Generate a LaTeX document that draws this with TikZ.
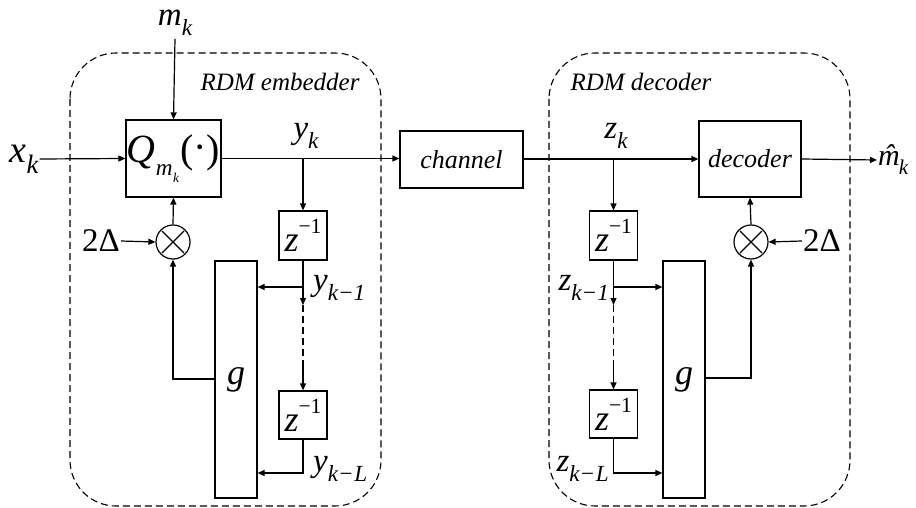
\documentclass[tikz,border=0pt]{standalone}
\usepackage{fontspec}
\newfontfamily\tms{Liberation Serif}
\usepackage{graphicx}
\usetikzlibrary{arrows.meta,calc}
% lowered and raised script text for subscripts and exponents
\newcommand\lowsub[1]{\raisebox{-0.3em}{\scalebox{0.7}{\itshape #1}}}
\newcommand\qsub[1]{\raisebox{-0.32em}{\scalebox{0.58}{\itshape #1}}}
\newcommand\hisup[1]{\raisebox{0.5em}{\scalebox{0.6}{#1}}}
\newcommand\fs[1]{\tms\fontsize{#1}{#1}\selectfont}
\tikzset{
  conn/.style={line width=1.2pt},
  arr/.style={conn,-{Triangle[length=7pt,width=6pt]}},
  blk/.style={draw,line width=1.2pt,inner sep=0pt,rectangle},
  mult/.style={draw,line width=1.2pt,circle,minimum size=34pt,inner sep=0pt},
  grp/.style={draw,line width=1.1pt,dash pattern=on 7pt off 4pt,rounded corners=46pt},
  chain/.style={conn,dash pattern=on 7pt off 4pt},
  lbl/.style={inner sep=1pt,font=\fs{33}},
  title/.style={inner sep=0pt,font=\fs{25}\itshape},
}
\begin{document}
\begin{tikzpicture}[x=1pt,y=-1pt]
\useasboundingbox (0,0) rectangle (916,508);

% enclosing groups
\draw[grp] (70,53) rectangle (381,506);
\draw[grp] (549,53) rectangle (850,506);
\node[title] (embT) at (280,82) {RDM embedder};
\node[title] (decT) at (641,82) {RDM decoder};

% ---------- embedder ----------
\node[blk,minimum width=95pt,minimum height=77pt,font=\fs{40}] (Q) at (173.5,158.5)
  {\textit{Q}\qsub{m\kern1pt\qsub{k}}\kern1pt(\raisebox{0.05em}{·})};
\node[blk,minimum width=48pt,minimum height=49pt,font=\fs{36}] (z1) at (303,235.5) {\textit{z}\hisup{−1}};
\node[blk,minimum width=48pt,minimum height=48pt,font=\fs{36}] (z2) at (303,415) {\textit{z}\hisup{−1}};
\node[blk,minimum width=42pt,minimum height=237pt,font=\fs{36}\itshape] (g) at (236,379.5) {g};
\node[mult] (m1) at (173,242) {};
\draw[conn] ($(m1.center)+(-11,-11)$) -- ($(m1.center)+(11,11)$);
\draw[conn] ($(m1.center)+(-11,11)$) -- ($(m1.center)+(11,-11)$);

\node[lbl] (mk) at (175,23) {\textit{m}\lowsub{k}};
\node[lbl,font=\fs{38}] (xk) at (24,159) {\textit{x}\lowsub{k}};
\node[lbl] (yk) at (306,136) {\textit{y}\lowsub{k}};
\node[lbl,anchor=west] (yk1) at (312,288) {\textit{y}\lowsub{k−1}};
\node[lbl,anchor=west] (ykL) at (312,469) {\textit{y}\lowsub{k−\kern1pt L}};
\node[lbl,anchor=east] (dl) at (121,241) {2Δ};

\coordinate (ybr) at (303,158.5);
\coordinate (y1br) at (303,287);
\coordinate (y1end) at (303,305);
\coordinate (ychn) at (303,366);
\coordinate (yLc) at (303,473);
\coordinate (gout) at (173,379);

\draw[arr] (mk.south) ++(0,2) -- (Q.north);
\draw[arr] (xk.east) -- (Q.west);
\draw[conn] (Q.east) -- (ybr);
\draw[arr] (ybr) -- (z1.north);
\draw[arr] (z1.south) -- (y1end);
\draw[arr] (y1br) -- (g.east |- y1br);
\draw[chain] (y1end) -- (ychn);
\draw[arr] (ychn) -- (z2.north);
\draw[arr] (z2.south) -- (yLc) -- (g.east |- yLc);
\draw[arr] (g.west |- gout) -- (gout) -- (m1.south);
\draw[arr] (m1.north) -- (Q.south);
\draw[arr] (dl.east) -- (m1.west);

% ---------- channel ----------
\node[blk,minimum width=123pt,minimum height=57pt,font=\fs{26}\itshape] (ch) at (461.5,159.5) {channel};
\draw[arr] (ybr) -- (ch.west |- ybr);

% ---------- decoder ----------
\node[blk,minimum width=102pt,minimum height=76pt,font=\fs{26}\itshape] (dec) at (750,159) {decoder};
\node[blk,minimum width=48pt,minimum height=49pt,font=\fs{36}] (w1) at (613.5,235.5) {\textit{z}\hisup{−1}};
\node[blk,minimum width=48pt,minimum height=48pt,font=\fs{36}] (w2) at (613.5,414) {\textit{z}\hisup{−1}};
\node[blk,minimum width=42pt,minimum height=237pt,font=\fs{36}\itshape] (g2) at (684,379.5) {g};
\node[mult] (m2) at (751,242) {};
\draw[conn] ($(m2.center)+(-11,-11)$) -- ($(m2.center)+(11,11)$);
\draw[conn] ($(m2.center)+(-11,11)$) -- ($(m2.center)+(11,-11)$);

\node[lbl] (zk) at (616,136) {\textit{z}\lowsub{k}};
\node[lbl,anchor=east] (zk1) at (610,288) {\textit{z}\lowsub{k−1}};
\node[lbl,anchor=east] (zkL) at (610,469) {\textit{z}\lowsub{k−\kern1pt L}};
\node[lbl,anchor=west] (dr) at (802,241) {2Δ};
\node[lbl,anchor=west,inner sep=1pt,font=\fs{30}] (mh) at (877,160) {\textit{\accent"02C6 m}\kern-1pt\lowsub{k}};

\coordinate (zbr) at (613.5,159);
\coordinate (z1br) at (613.5,287);
\coordinate (z1end) at (613.5,305);
\coordinate (zchn) at (613.5,366);
\coordinate (zLc) at (613.5,473);
\coordinate (g2out) at (751,378);

\draw[conn] (ch.east |- zbr) -- (zbr);
\draw[arr] (zbr) -- (dec.west);
\draw[arr] (zbr) -- (w1.north);
\draw[arr] (dec.east) -- (mh.west);
\draw[arr] (w1.south) -- (z1end);
\draw[arr] (z1br) -- (g2.west |- z1br);
\draw[chain] (z1end) -- (zchn);
\draw[arr] (zchn) -- (w2.north);
\draw[arr] (w2.south) -- (zLc) -- (g2.west |- zLc);
\draw[arr] (g2.east |- g2out) -- (g2out) -- (m2.south);
\draw[arr] (m2.north) -- (dec.south);
\draw[arr] (dr.west) -- (m2.east);
\end{tikzpicture}
\end{document}
